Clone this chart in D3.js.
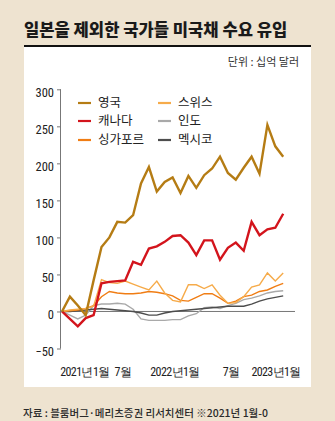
<!DOCTYPE html>
<html><head><meta charset="utf-8">
<script src="https://cdn.jsdelivr.net/npm/d3@7"></script>
<style>
html,body{margin:0;padding:0;background:#eee3d0;}
svg{display:block;}
</style></head>
<body>
<script>
// ---- data (billion USD, cumulative since Jan 2021) ----
const uk        = [0,20,8,-5,42,87,100,121,120,130,173,195,162,175,181,160,183,167,184,193,209,187,178,194,209,186,252,223,209];
const canada    = [0,-10,-20,-9,-5,38,40,41,42,67,63,85,88,94,102,103,93,76,96,96,70,86,93,82,121,103,111,113,132];
const swiss     = [0,2,3,4,7,43,39,38,41,37,33,29,41,25,15,13,36,36,31,36,22,11,12,20,33,36,52,41,52];
const singapore = [0,1,2,4,8,20,27,25,24,24,25,27,26,24,21,15,14,19,24,24,18,11,14,20,22,27,29,34,38];
const india     = [0,-5,-10,-5,8,10,10,11,10,3,-10,-12,-12,-12,-11,-11,-6,-3,5,6,4,8,11,16,18,21,25,27,28];
const mexico    = [0,0,1,2,3,4,3,2,1,0,-2,-5,-5,-2,0,1,2,3,4,5,6,7,7,7,10,14,17,19,21];
const seriesNames  = ["영국","캐나다","싱가포르","스위스","인도","멕시코"];
const yTicks = [-50,0,50,100,150,200,250,300];
const xTickLabels = ["2021년1월","7월","2022년1월","7월","2023년1월"];
const xTickIdx    = [2.9,7.7,14.3,21.4,27.1];

const W=335,H=421;
const svg=d3.select("body").append("svg").attr("width",W).attr("height",H);
svg.append("rect").attr("width",W).attr("height",H).attr("fill","#eee3d0");
svg.append("rect").attr("x",24).attr("y",46).attr("width",287).attr("height",341).attr("fill","#ffffff");
svg.append("line").attr("x1",24).attr("x2",311).attr("y1",46).attr("y2",46).attr("stroke","#111").attr("stroke-width",2.2);

const KR = "'Noto Sans CJK KR','Noto Sans',sans-serif";
const NUM = "'Liberation Sans Narrow','Roboto Condensed','Liberation Sans',sans-serif";

svg.append("text").attr("x",24).attr("y",36).attr("font-family",KR).attr("font-weight",900)
  .attr("font-size",16.6).attr("fill","#1a1a1a").text("일본을 제외한 국가들 미국채 수요 유입");
svg.append("text").attr("x",299).attr("y",66).attr("text-anchor","end").attr("font-family",KR)
  .attr("font-size",11).attr("fill","#333").text("단위 : 십억 달러");
svg.append("text").attr("x",23).attr("y",417).attr("font-family",KR).attr("font-weight",500)
  .attr("font-size",10.5).attr("fill","#2a2a2a").text("자료 : 블룸버그·메리츠증권 리서치센터 ※2021년 1월-0");

const x=d3.scaleLinear().domain([0,uk.length-1]).range([62,283.2]);
const y=d3.scaleLinear().domain([-50,300]).range([348.5,89.3]);

// y axis
const yAxis=d3.axisLeft(y).tickValues(yTicks).tickSize(4).tickPadding(3).tickFormat(d=>d<0?"−"+Math.abs(d):d);
const ga=svg.append("g").attr("transform","translate(61,0)").call(yAxis);
ga.select(".domain").attr("stroke","#777").attr("d","M-0.5,"+y(-50)+"V"+y(300));
ga.selectAll(".tick line").attr("stroke","#777");
ga.selectAll(".tick text").attr("font-family",NUM).attr("font-size",12.5).attr("fill","#222").attr("dy","0.55em");

// zero baseline
svg.append("line").attr("x1",61).attr("x2",295).attr("y1",y(0)).attr("y2",y(0)).attr("stroke","#777").attr("stroke-width",1);

// x labels
svg.append("g").selectAll("text").data(xTickLabels).join("text")
  .attr("x",(d,i)=>x(xTickIdx[i])).attr("y",376).attr("text-anchor","middle")
  .attr("font-family",NUM).attr("font-size",12).attr("fill","#222").attr("letter-spacing",-0.6).text(d=>d);

const colors={"영국":"#b57c14","캐나다":"#d3141c","싱가포르":"#f07d14","스위스":"#f6ab4a","인도":"#a9a9a9","멕시코":"#4d4d4d"};
const widths={"영국":2.4,"캐나다":2.4,"싱가포르":1.4,"스위스":1.4,"인도":1.4,"멕시코":1.4};
const dataMap={"영국":uk,"캐나다":canada,"싱가포르":singapore,"스위스":swiss,"인도":india,"멕시코":mexico};
const line=d3.line().x((d,i)=>x(i)).y(d=>y(d));
const drawOrder=["인도","멕시코","싱가포르","스위스","캐나다","영국"];
drawOrder.forEach(n=>{
  svg.append("path").datum(dataMap[n]).attr("d",line).attr("fill","none")
    .attr("stroke",colors[n]).attr("stroke-width",widths[n]).attr("stroke-linejoin","miter");
});

// legend
const legendOrder=["영국","캐나다","싱가포르","스위스","인도","멕시코"];
const lg=svg.append("g");
legendOrder.forEach((n,i)=>{
  const col=Math.floor(i/3), row=i%3;
  const lx= col===0?78:158, ly=[103,121,140][row];
  lg.append("line").attr("x1",lx).attr("x2",lx+13).attr("y1",ly).attr("y2",ly)
    .attr("stroke",colors[n]).attr("stroke-width",2.2);
  lg.append("text").attr("x",lx+20).attr("y",ly).attr("dy","0.35em").attr("font-family",KR)
    .attr("font-size",12.5).attr("fill","#222").text(n);
});
</script>
</body></html>
